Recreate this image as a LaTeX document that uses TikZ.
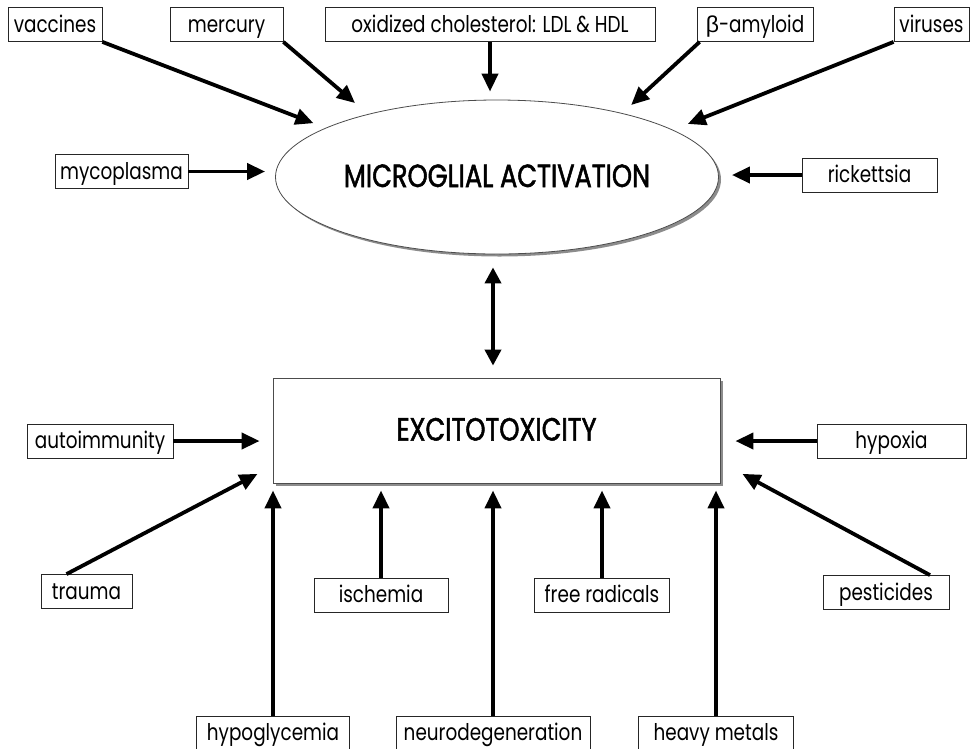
\documentclass[tikz,border=0pt]{standalone}
\usepackage{fontspec}
\setmainfont{Poppins}[FakeStretch=0.8]
\newfontfamily\headfont{Poppins}[FakeStretch=0.8, FakeBold=1.6]
\newfontfamily\greekfont{Liberation Sans}
\usetikzlibrary{arrows.meta, positioning, shapes.geometric, shadows}

\begin{document}
\begin{tikzpicture}[x=1pt, y=-1pt,
  cause/.style={rectangle, draw=black!85, line width=0.8pt, minimum height=34pt, inner sep=0pt, text height=15pt, text depth=0pt, font=\fontsize{23}{27}\selectfont},
  hub/.style={draw=black!70, line width=0.8pt, fill=white, inner sep=0pt, text height=20pt, text depth=0pt, drop shadow={shadow xshift=2.5pt, shadow yshift=-2.5pt, fill=black!45, opacity=1}, font=\headfont\fontsize{32}{36}\selectfont},
  arrow/.style={-{Triangle[length=18pt, width=16pt]}, line width=3.8pt},
]
  \useasboundingbox (0,0) rectangle (977,748);

  % causes above
  \node[cause, minimum width=94pt] (vaccines) at (55,24.5) {vaccines};
  \node[cause, minimum width=113pt] (mercury) at (226.5,24.5) {mercury};
  \node[cause, minimum width=330pt] (chol) at (490,24.5) {oxidized cholesterol: LDL \& HDL};
  \node[cause, minimum width=116pt] (amyloid) at (755,24.5) {{\greekfont β}-amyloid};
  \node[cause, minimum width=75pt] (viruses) at (931.5,24.5) {viruses};
  \node[cause, minimum width=133pt] (myco) at (121.5,171.5) {mycoplasma};
  \node[cause, minimum width=135pt] (rick) at (869.5,175) {rickettsia};

  % the two centres
  \node[hub, ellipse, minimum width=443pt, minimum height=154pt] (micro) at (497,177) {MICROGLIAL ACTIVATION};
  \node[hub, rectangle, minimum width=447pt, minimum height=105pt] (excito) at (496.5,430.5) {EXCITOTOXICITY};

  % causes below
  \node[cause, minimum width=146pt] (auto) at (100,441) {autoimmunity};
  \node[cause, minimum width=149pt] (hypoxia) at (891.5,441) {hypoxia};
  \node[cause, minimum width=91pt] (trauma) at (86.5,591.5) {trauma};
  \node[cause, minimum width=134pt] (ischemia) at (381,595) {ischemia};
  \node[cause, minimum width=135pt] (radicals) at (602,595) {free radicals};
  \node[cause, minimum width=126pt] (pest) at (886,592.5) {pesticides};
  \node[cause, minimum width=153pt] (hypo) at (273,733) {hypoglycemia};
  \node[cause, minimum width=194pt] (neuro) at (493,733) {neurodegeneration};
  \node[cause, minimum width=155pt] (metals) at (716,733) {heavy metals};

  \draw[arrow, shorten >=13pt] (vaccines.south east) -- (micro.164);
  \draw[arrow, shorten >=17pt] (mercury.south east) -- (micro.154);
  \draw[arrow, shorten >=8pt] (chol.south) -- (chol.south |- micro.north);
  \draw[arrow, shorten >=12pt] ([xshift=3pt]amyloid.south west) -- (micro.27);
  \draw[arrow, shorten >=16pt] (viruses.south west) -- (micro.15);
  \draw[arrow, shorten >=10pt] (myco.east) -- (myco.east -| micro.west);
  \draw[arrow, shorten >=13pt] (rick.west) -- (rick.west -| micro.east);

  \draw[{Triangle[length=16pt, width=16pt]}-{Triangle[length=16pt, width=16pt]}, line width=3.8pt, shorten <=13pt, shorten >=12pt] ([xshift=-4pt]micro.south) -- ([xshift=-4pt]micro.south |- excito.north);

  \draw[arrow, shorten >=13pt] (auto.east) -- (auto.east -| excito.west);
  \draw[arrow, shorten >=15pt] (hypoxia.west) -- (hypoxia.west -| excito.east);
  \draw[arrow, shorten >=17pt] ([xshift=-20pt]trauma.north) -- (excito.189);
  \draw[arrow, shorten >=25pt] ([xshift=44pt]pest.north) -- (excito.352);
  \foreach \src in {hypo, ischemia, neuro, radicals, metals}
    \draw[arrow, shorten >=7pt] (\src.north) -- (\src.north |- excito.south);
\end{tikzpicture}
\end{document}
